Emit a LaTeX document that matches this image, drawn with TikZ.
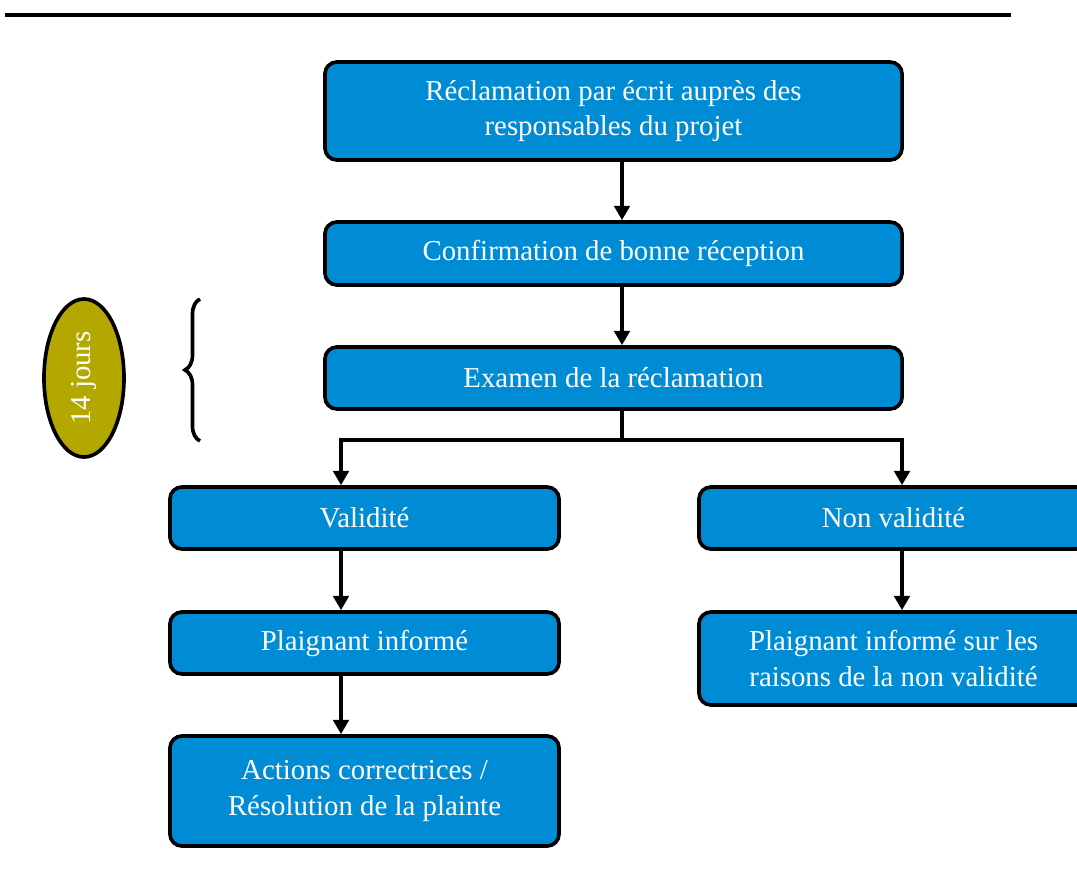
\documentclass[tikz,border=0pt]{standalone}
\usepackage{fontspec}
\setmainfont{Liberation Serif}
\usetikzlibrary{shapes.geometric,arrows.meta,decorations.pathreplacing}
\definecolor{stageblue}{RGB}{0,140,213}
\definecolor{daysolive}{RGB}{180,167,0}
\begin{document}
\begin{tikzpicture}[x=0.025cm, y=-0.025cm,
  stage/.style={draw, line width=2.6pt, rounded corners=3mm, fill=stageblue, text=white, align=center, inner sep=0pt, font=\fontsize{20.5pt}{25pt}\selectfont},
  wide/.style={stage, minimum width=14.425cm},
  narrow/.style={stage, minimum width=9.725cm},
  flow/.style={line width=2.6pt, -{Triangle[width=3.9mm,length=3.6mm]}}]
    \useasboundingbox (0,0) rectangle (1077,877);
    % top rule
    \draw[line width=1mm] (5,15) -- (1011,15);
    \node[wide, minimum height=2.45cm] (claim) at (613.5,111) {Réclamation par écrit auprès des\\responsables du projet};
    \node[wide, minimum height=1.575cm] (receipt) at (613.5,253.5) {Confirmation de bonne réception};
    \node[wide, minimum height=1.55cm] (review) at (613.5,378) {Examen de la réclamation};
    \node[narrow, minimum height=1.55cm] (valid) at (364.5,518) {Validité};
    \node[narrow, minimum height=1.55cm] (invalid) at (893.5,518) {Non validité};
    \node[narrow, minimum height=1.55cm] (informed) at (364.5,643) {Plaignant informé};
    \node[narrow, minimum height=2.325cm] (reasons) at (893.5,658.5) {Plaignant informé sur les\\raisons de la non validité};
    \node[narrow, minimum height=2.75cm] (fix) at (364.5,791) {Actions correctrices /\\Résolution de la plainte};
    \node[ellipse, draw, line width=2.6pt, fill=daysolive, text=white, minimum width=2cm, minimum height=3.95cm, inner sep=0pt, font=\fontsize{20.5pt}{25pt}\selectfont] (days) at (84,378) {\rotatebox{90}{14 jours}};
    % connectors
    \coordinate (trunk) at (622,0);
    \coordinate (leftx) at (341,0);
    \coordinate (rightx) at (902,0);
    \coordinate (fork) at (622,440);
    \draw[flow] (claim.south -| trunk) -- (receipt.north -| trunk);
    \draw[flow] (receipt.south -| trunk) -- (review.north -| trunk);
    \draw[line width=2.6pt] (review.south -| trunk) -- (fork);
    \draw[flow] (fork) -| (valid.north -| leftx);
    \draw[flow] (fork) -| (invalid.north -| rightx);
    \draw[flow] (valid.south -| leftx) -- (informed.north -| leftx);
    \draw[flow] (informed.south -| leftx) -- (fix.north -| leftx);
    \draw[flow] (invalid.south -| rightx) -- (reasons.north -| rightx);
    % brace
    \coordinate (brace top) at (200,299);
    \coordinate (brace bottom) at (200,441);
    \draw[line width=2.6pt, decorate, decoration={brace, amplitude=3.75mm}] (brace bottom) -- (brace top);
\end{tikzpicture}
\end{document}
